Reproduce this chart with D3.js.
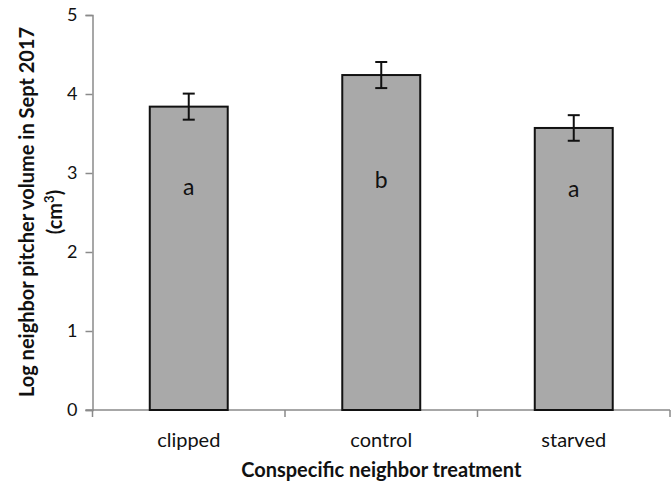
<!DOCTYPE html>
<html>
<head>
<meta charset="utf-8">
<script src="https://cdn.jsdelivr.net/npm/d3@7/dist/d3.min.js"></script>
<style>
  html, body { margin: 0; padding: 0; background: #fff; }
  svg { display: block; font-family: Lato, "Open Sans", sans-serif; }
</style>
</head>
<body>
<svg id="chart" width="671" height="484"></svg>
<script>
const categories = ["clipped", "control", "starved"];
const values = [3.84, 4.24, 3.57];
const errors = [0.165, 0.165, 0.162];
const letters = ["a", "b", "a"];
const letterBase = [2.72, 2.81, 2.69];
const yTicks = [0, 1, 2, 3, 4, 5];

(function () {
const svg = d3.select("#chart");
const mLeft = 92.5, mRight = 670, mTop = 15, mBottom = 410;

const x = d3.scaleBand().domain(categories).range([mLeft, mRight]).padding(0);
const y = d3.scaleLinear().domain([0, 5]).range([mBottom, mTop]);
const barW = x.bandwidth() * 0.405;

// y axis
const yAxis = d3.axisLeft(y).tickValues(yTicks).tickSize(7).tickPadding(8).tickFormat(d3.format("d"));
const gy = svg.append("g").attr("transform", `translate(${mLeft},0)`).call(yAxis);
gy.select(".domain").attr("stroke", "#8a8a8a").attr("stroke-width", 1.5);
gy.selectAll(".tick line").attr("stroke", "#8a8a8a").attr("stroke-width", 1.5);
gy.selectAll(".tick text").attr("font-size", 18).attr("fill", "#111").attr("font-family", "Lato, sans-serif");

// x axis
const gx = svg.append("g").attr("transform", `translate(0,${mBottom})`);
gx.append("line").attr("x1", mLeft - 7).attr("x2", mRight).attr("y1", 0).attr("y2", 0)
  .attr("stroke", "#8a8a8a").attr("stroke-width", 1.5);
const boundaries = [mLeft].concat(categories.map(c => x(c) + x.bandwidth()));
gx.selectAll("line.tk").data(boundaries).enter().append("line").attr("class", "tk")
  .attr("x1", d => d).attr("x2", d => d).attr("y1", 0).attr("y2", 7)
  .attr("stroke", "#8a8a8a").attr("stroke-width", 1.5);
gx.selectAll("text.cat").data(categories).enter().append("text").attr("class", "cat")
  .attr("x", d => x(d) + x.bandwidth() / 2).attr("y", 37)
  .attr("text-anchor", "middle").attr("font-size", 20).attr("fill", "#111")
  .text(d => d);

// bars
svg.selectAll("rect.bar").data(categories).enter().append("rect").attr("class", "bar")
  .attr("x", d => x(d) + x.bandwidth() / 2 - barW / 2)
  .attr("width", barW)
  .attr("y", (d, i) => y(values[i]))
  .attr("height", (d, i) => y(0) - y(values[i]))
  .attr("fill", "#a9a9a9").attr("stroke", "#111").attr("stroke-width", 2);

// error bars
const eb = svg.append("g").attr("stroke", "#111").attr("stroke-width", 2);
categories.forEach((c, i) => {
  const cx = x(c) + x.bandwidth() / 2;
  const y1 = y(values[i] + errors[i]), y0 = y(values[i] - errors[i]);
  eb.append("line").attr("x1", cx).attr("x2", cx).attr("y1", y1).attr("y2", y0);
  eb.append("line").attr("x1", cx - 6).attr("x2", cx + 6).attr("y1", y1).attr("y2", y1);
  eb.append("line").attr("x1", cx - 6).attr("x2", cx + 6).attr("y1", y0).attr("y2", y0);
});

// letters
svg.selectAll("text.let").data(categories).enter().append("text").attr("class", "let")
  .attr("x", d => x(d) + x.bandwidth() / 2)
  .attr("y", (d, i) => y(letterBase[i]))
  .attr("text-anchor", "middle").attr("font-size", 23).attr("fill", "#111")
  .text((d, i) => letters[i]);

// axis titles
svg.append("text").attr("x", (mLeft + mRight) / 2).attr("y", 477)
  .attr("text-anchor", "middle").attr("font-size", 20).attr("font-weight", "bold").attr("fill", "#111")
  .text("Conspecific neighbor treatment");

const yt = svg.append("text").attr("transform", "translate(0,212) rotate(-90)")
  .attr("text-anchor", "middle").attr("font-size", 20).attr("font-weight", "bold").attr("fill", "#111");
yt.append("tspan").attr("x", 0).attr("y", 34).text("Log neighbor pitcher volume in Sept 2017");
yt.append("tspan").attr("x", 0).attr("y", 62).text("(cm");
yt.append("tspan").attr("font-size", 13).attr("dy", -8).text("3");
yt.append("tspan").attr("dy", 8).text(")");
})();
</script>
</body>
</html>
